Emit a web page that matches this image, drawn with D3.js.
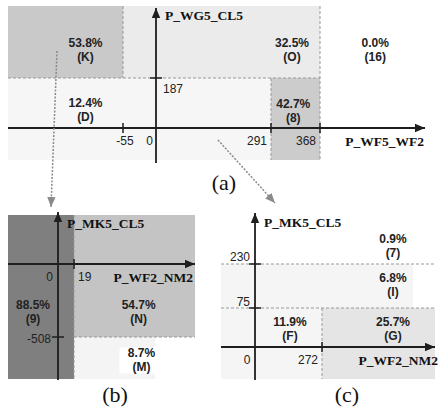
<!DOCTYPE html>
<html><head><meta charset="utf-8">
<script src="https://cdn.jsdelivr.net/npm/d3@7/dist/d3.min.js"></script>
<style>
html,body{margin:0;padding:0;background:#fff;}
svg{display:block;}
</style></head>
<body>
<svg id="c" width="438" height="412"></svg>
<script>
// ---------- DATA ----------
// Panel (a)
const aXTitle = "P_WF5_WF2", aYTitle = "P_WG5_CL5";
const aXTicks = [-55, 0, 291, 368];
const aYTicks = [187];
const aIds    = ["K", "O", "16", "D", "8"];
const aShares = [53.8, 32.5, 0.0, 12.4, 42.7];
const aX0 = [-Infinity, -55, 368, -Infinity, 291];
const aX1 = [-55, 368, Infinity, 291, 368];
const aY0 = [187, 187, 187, -Infinity, -Infinity];
const aY1 = [Infinity, Infinity, Infinity, 187, 187];

// Panel (b)
const bXTitle = "P_WF2_NM2", bYTitle = "P_MK5_CL5";
const bXTicks = [0, 19];
const bYTicks = [-508];
const bIds    = ["9", "N", "M"];
const bShares = [88.5, 54.7, 8.7];
const bX0 = [-Infinity, 19, 19];
const bX1 = [19, Infinity, 107];
const bY0 = [-Infinity, -508, -Infinity];
const bY1 = [Infinity, Infinity, -508];

// Panel (c)
const cXTitle = "P_WF2_NM2", cYTitle = "P_MK5_CL5";
const cXTicks = [0, 272];
const cYTicks = [75, 230];
const cIds    = ["7", "I", "F", "G"];
const cShares = [0.9, 6.8, 11.9, 25.7];
const cX0 = [-Infinity, -Infinity, -Infinity, 272];
const cX1 = [Infinity, 536, 272, Infinity];
const cY0 = [230, 75, -Infinity, -Infinity];
const cY1 = [Infinity, 230, 75, 75];

// ---------- LAYOUT / STYLE ----------
const svg = d3.select("#c");
const AX = "#1e1e1e";
const sans = "'Liberation Sans', Arial, sans-serif";
const serif = "'Liberation Serif', 'Times New Roman', serif";

const defs = svg.append("defs");
function marker(id, fill) {
  defs.append("marker").attr("id", id).attr("viewBox", "0 0 10 10")
    .attr("refX", 10).attr("refY", 5).attr("markerWidth", 10).attr("markerHeight", 10)
    .attr("markerUnits", "userSpaceOnUse").attr("orient", "auto")
    .append("path").attr("d", "M0,0.8 L10,5 L0,9.2 Z").attr("fill", fill);
}
marker("ah", AX);
marker("gh", "#8a8a8a");

function panel(cfg) {
  const g = svg.append("g");
  const x = d3.scaleLinear().domain(cfg.xd).range(cfg.xr);
  const y = d3.scaleLinear().domain(cfg.yd).range(cfg.yr);
  const px = v => v === -Infinity ? cfg.box[0] : v === Infinity ? cfg.box[2] : x(v);
  const py = v => v === Infinity ? cfg.box[1] : v === -Infinity ? cfg.box[3] : y(v);
  const n = cfg.ids.length;
  const idx = d3.range(n);
  // region fills
  g.selectAll("rect.r").data(idx).join("rect")
    .attr("x", i => px(cfg.x0[i])).attr("y", i => py(cfg.y1[i]))
    .attr("width", i => px(cfg.x1[i]) - px(cfg.x0[i]))
    .attr("height", i => py(cfg.y0[i]) - py(cfg.y1[i]))
    .attr("fill", i => cfg.fills[i]);
  // dashed boundaries
  cfg.dashes.forEach(d => {
    g.append("line")
      .attr("x1", px(d[0])).attr("y1", py(d[1])).attr("x2", px(d[2])).attr("y2", py(d[3]))
      .attr("stroke", "#999").attr("stroke-width", 1).attr("stroke-dasharray", "3,2");
  });
  // label backgrounds
  if (cfg.labelBg) cfg.labelBg.forEach(i => {
    g.append("rect").attr("x", x(cfg.lx[i]) - 22).attr("y", y(cfg.ly[i]) - 12)
      .attr("width", 46).attr("height", 26).attr("fill", "#ffffff");
  });
  // axes
  const ax0 = y(0), ay0 = x(0);
  g.append("line").attr("x1", cfg.box[0]).attr("x2", cfg.xArrow).attr("y1", ax0).attr("y2", ax0)
    .attr("stroke", AX).attr("stroke-width", 1.8).attr("marker-end", "url(#ah)");
  g.append("line").attr("x1", ay0).attr("x2", ay0).attr("y1", cfg.yBottom).attr("y2", cfg.yArrow)
    .attr("stroke", AX).attr("stroke-width", 1.8).attr("marker-end", "url(#ah)");
  // ticks
  cfg.xTicks.filter(t => t !== 0).forEach(t => {
    g.append("line").attr("x1", x(t)).attr("x2", x(t)).attr("y1", ax0 - 5).attr("y2", ax0 + 5)
      .attr("stroke", AX).attr("stroke-width", 1.5);
  });
  cfg.yTicks.forEach(t => {
    g.append("line").attr("x1", ay0 - 6).attr("x2", ay0 + 6).attr("y1", y(t)).attr("y2", y(t))
      .attr("stroke", AX).attr("stroke-width", 1.5);
  });
  // tick labels
  cfg.xTicks.forEach((t, i) => {
    const o = cfg.xTickLab[i];
    g.append("text").attr("x", x(t) + o[0]).attr("y", ax0 + 17).attr("text-anchor", o[1])
      .attr("font-family", sans).attr("font-size", 12).attr("fill", "#222").text(t);
  });
  cfg.yTicks.forEach((t, i) => {
    const o = cfg.yTickLab[i];
    g.append("text").attr("x", ay0 + o[0]).attr("y", y(t) + o[1]).attr("text-anchor", o[2])
      .attr("font-family", sans).attr("font-size", 12).attr("fill", "#222").text(t);
  });
  // titles
  g.append("text").attr("x", ay0 + 9).attr("y", cfg.yArrow + cfg.yTitleDy)
    .attr("font-family", serif).attr("font-weight", "bold").attr("font-size", 13.5).attr("fill", "#111")
    .text(cfg.yTitle);
  g.append("text").attr("x", cfg.xTitleX).attr("y", ax0 + 18).attr("text-anchor", "end")
    .attr("font-family", serif).attr("font-weight", "bold").attr("font-size", 13.5).attr("fill", "#111")
    .text(cfg.xTitle);
  // region labels
  idx.forEach(i => {
    const t = g.append("text").attr("text-anchor", "middle")
      .attr("font-family", sans).attr("font-weight", "bold").attr("font-size", 12).attr("fill", "#222");
    t.append("tspan").attr("x", x(cfg.lx[i])).attr("y", y(cfg.ly[i]) - 2).text(cfg.shares[i].toFixed(1) + "%");
    t.append("tspan").attr("x", x(cfg.lx[i])).attr("y", y(cfg.ly[i]) + 12).text("(" + cfg.ids[i] + ")");
  });
  // caption
  svg.append("text").attr("x", cfg.cap[0]).attr("y", cfg.cap[1]).attr("text-anchor", "middle")
    .attr("font-family", serif).attr("font-size", 22).attr("fill", "#111").text(cfg.caption);
}

// Panel (a)
panel({
  xd: [-150, -55, 0, 291, 368, 520], xr: [8, 123, 156, 271, 320, 425],
  yd: [-60, 0, 187, 500], yr: [160, 128, 78, 6],
  box: [8, 6, 320, 160],
  x0: aX0, x1: aX1, y0: aY0, y1: aY1, ids: aIds, shares: aShares,
  fills: ["#c9c9c9", "#ebebeb", "#ffffff", "#f6f6f6", "#cccccc"],
  dashes: [[-55, Infinity, -55, 187], [-Infinity, 187, 368, 187], [368, Infinity, 368, -Infinity], [291, 187, 291, -Infinity]],
  lx: [-86, 324, 448, -86, 326], ly: [312, 312, 312, 72, 66],
  xTicks: aXTicks, yTicks: aYTicks,
  xTickLab: [[2, "middle"], [-3, "end"], [-4, "end"], [-4, "end"]],
  yTickLab: [[7, 15, "start"]],
  xArrow: 425, yArrow: 8, yBottom: 163, yTitleDy: 12,
  xTitle: aXTitle, yTitle: aYTitle, xTitleX: 424,
  caption: "(a)", cap: [224, 190]
});

// Panel (b)
panel({
  xd: [-30, 0, 19, 150], xr: [8, 58, 74, 195],
  yd: [-800, -508, 0, 200], yr: [379, 337, 264, 215],
  box: [8, 215, 195, 379],
  x0: bX0, x1: bX1, y0: bY0, y1: bY1, ids: bIds, shares: bShares,
  fills: ["#7f7f7f", "#c4c4c4", "#f4f4f4"],
  dashes: [[19, Infinity, 19, -Infinity], [19, -508, Infinity, -508]],
  lx: [-15, 89, 92], ly: [-327, -327, -664],
  labelBg: [2],
  xTicks: bXTicks, yTicks: bYTicks,
  xTickLab: [[-5, "end"], [4, "start"]],
  yTickLab: [[-7, 6, "end"]],
  xArrow: 195, yArrow: 212, yBottom: 380, yTitleDy: 16,
  xTitle: bXTitle, yTitle: bYTitle, xTitleX: 193,
  caption: "(b)", cap: [115, 402]
});

// Panel (c)
panel({
  xd: [-50, 0, 272, 600], xr: [221, 255, 322, 435],
  yd: [-50, 0, 75, 230, 400], yr: [379, 347, 308, 264, 213],
  box: [221, 213, 435, 379],
  x0: cX0, x1: cX1, y0: cY0, y1: cY1, ids: cIds, shares: cShares,
  fills: ["#ffffff", "#f5f5f5", "#f5f5f5", "#e5e5e5"],
  dashes: [[-Infinity, 230, Infinity, 230], [-Infinity, 75, Infinity, 75], [272, 75, 272, -Infinity]],
  lx: [478, 478, 142, 478], ly: [293, 160, 36, 36],
  xTicks: cXTicks, yTicks: cYTicks,
  xTickLab: [[-8, "middle"], [-4, "end"]],
  yTickLab: [[-5, -2, "end"], [-5, -3, "end"]],
  xArrow: 435, yArrow: 213, yBottom: 380, yTitleDy: 14,
  xTitle: cXTitle, yTitle: cYTitle, xTitleX: 438,
  caption: "(c)", cap: [347, 402]
});

// dotted connector arrows
svg.append("line").attr("x1", 57).attr("y1", 51).attr("x2", 51).attr("y2", 207)
  .attr("stroke", "#8a8a8a").attr("stroke-width", 1.5).attr("stroke-dasharray", "2,1.5")
  .attr("marker-end", "url(#gh)");
svg.append("line").attr("x1", 218).attr("y1", 140).attr("x2", 275).attr("y2", 203)
  .attr("stroke", "#8a8a8a").attr("stroke-width", 1.5).attr("stroke-dasharray", "2,1.5")
  .attr("marker-end", "url(#gh)");
</script>
</body></html>
